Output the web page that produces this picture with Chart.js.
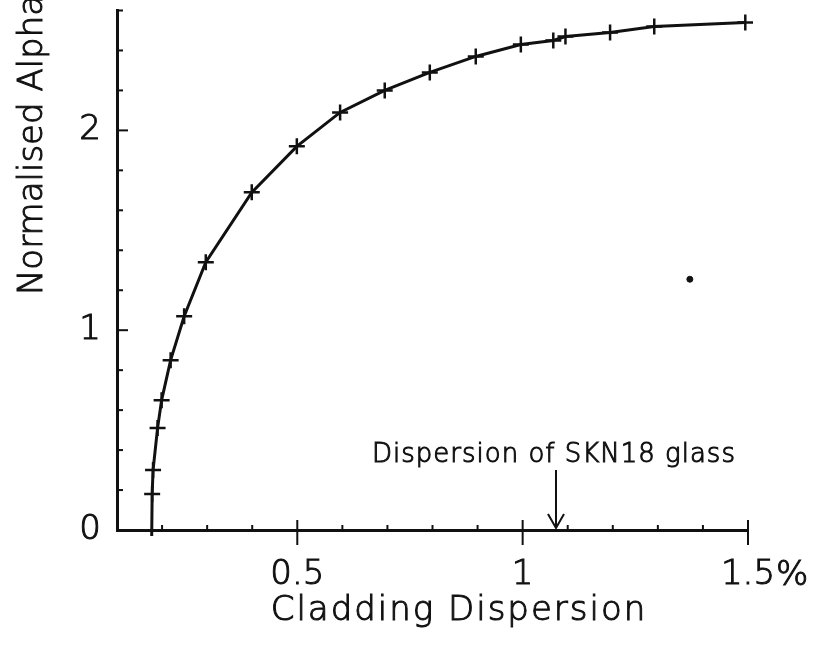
<!DOCTYPE html>
<html>
<head>
<meta charset="utf-8">
<script src="https://cdn.jsdelivr.net/npm/chart.js@4/dist/chart.umd.min.js"></script>
<style>
  html, body { margin: 0; padding: 0; background: #fff; }
  #wrap { width: 815px; height: 651px; position: relative; }
</style>
</head>
<body>
<div id="wrap"><canvas id="c"></canvas></div>
<script>
// measured points (cladding dispersion %, normalised alpha)
const dispersion = [0.177, 0.178, 0.18, 0.19, 0.199, 0.219, 0.249, 0.297, 0.399, 0.499, 0.595, 0.694, 0.794, 0.896, 0.996, 1.068, 1.095, 1.194, 1.292, 1.494];
const alpha = [-0.03, 0.18, 0.30, 0.51, 0.65, 0.85, 1.07, 1.34, 1.69, 1.92, 2.09, 2.20, 2.29, 2.37, 2.43, 2.45, 2.47, 2.49, 2.52, 2.54];
// the first entry is where the curve meets the axis, no marker there
const markerShown = [false, true, true, true, true, true, true, true, true, true, true, true, true, true, true, true, true, true, true, true];

// stray speck on the scanned page
const speckX = [1.371];
const speckY = [1.255];

const xTicks = [0.5, 1, 1.5];
const yTicks = [0, 1, 2];
const skn18 = 1.074;
const noteText = 'Dispersion of SKN18 glass';
const xTitle = 'Cladding Dispersion';
const yTitle = 'Normalised Alpha';

const ink = '#111';
const fontFamily = '"DejaVu Sans", sans-serif';
const thin = 200;   // extra light face, thickened with a stroke
const strokeW = 1;

// fill + thin stroke so the light face looks like a plotter pen
function penText(ctx, txt, x, y) {
    ctx.fillText(txt, x, y);
    ctx.lineWidth = strokeW;
    ctx.strokeText(txt, x, y);
}

let pts = dispersion.map((x, i) => ({ x: x, y: alpha[i] }));

let extras = {
    id: 'extras',
    afterDraw(chart) {
        let ctx = chart.ctx;
        let xs = chart.scales.x;
        let ys = chart.scales.y;
        let area = chart.chartArea;
        ctx.save();
        ctx.strokeStyle = ink;
        ctx.fillStyle = ink;
        ctx.lineCap = 'butt';

        // x minor ticks every 0.1, pointing up; majors cross the axis
        ctx.lineWidth = 2;
        for (let k = 2; k <= 15; k++) {
            let v = k / 10;
            let px = xs.getPixelForValue(v);
            let major = xTicks.some(t => Math.abs(t - v) < 1e-6);
            ctx.beginPath();
            ctx.moveTo(px, area.bottom - (major ? 10 : 5));
            ctx.lineTo(px, area.bottom + (major ? 15 : 0));
            ctx.stroke();
        }
        // y minor ticks every 0.2, pointing right
        for (let k = 1; k <= 13; k++) {
            let v = k / 5;
            let py = ys.getPixelForValue(v);
            let major = yTicks.some(t => Math.abs(t - v) < 1e-6);
            ctx.beginPath();
            ctx.moveTo(area.left, py);
            ctx.lineTo(area.left + (major ? 11 : 6), py);
            ctx.stroke();
        }

        // percent sign after the last x label
        ctx.font = thin + ' 34px ' + fontFamily;
        ctx.textBaseline = 'alphabetic';
        let lastPx = xs.getPixelForValue(xTicks[xTicks.length - 1]);
        let w = ctx.measureText('1.5').width;
        ctx.textAlign = 'left';
        penText(ctx, '%', lastPx + w / 2 + 1, 585);

        // axis titles
        ctx.font = thin + ' 34px ' + fontFamily;
        ctx.textAlign = 'center';
        ctx.letterSpacing = '2px';
        penText(ctx, xTitle, 459, 620);
        ctx.save();
        ctx.translate(42, 145);
        ctx.rotate(-Math.PI / 2);
        ctx.letterSpacing = '0px';
        penText(ctx, yTitle, 0, 0);
        ctx.restore();

        // annotation with arrow
        ctx.font = thin + ' 26px ' + fontFamily;
        ctx.letterSpacing = '1px';
        ctx.textAlign = 'center';
        penText(ctx, noteText, 554, 462);
        ctx.letterSpacing = '0px';
        let ax = xs.getPixelForValue(skn18);
        let tip = ys.getPixelForValue(0) - 2;
        ctx.lineWidth = 2;
        ctx.beginPath();
        ctx.moveTo(ax, 470);
        ctx.lineTo(ax, tip);
        ctx.moveTo(ax - 8, tip - 14);
        ctx.lineTo(ax, tip);
        ctx.lineTo(ax + 8, tip - 14);
        ctx.stroke();
        ctx.restore();
    }
};

new Chart(document.getElementById('c'), {
    type: 'scatter',
    data: {
        datasets: [
            {
                data: pts,
                showLine: true,
                borderColor: ink,
                borderWidth: 3,
                tension: 0,
                pointStyle: 'cross',
                pointRadius: ctx => markerShown[ctx.dataIndex] ? 8 : 0,
                pointBorderWidth: 2.5,
                pointBorderColor: ink,
                clip: { left: 5, right: 5, top: 5, bottom: 8 }
            },
            {
                data: speckX.map((x, i) => ({ x: x, y: speckY[i] })),
                pointStyle: 'circle',
                pointRadius: 3,
                backgroundColor: ink,
                borderColor: ink
            }
        ]
    },
    options: {
        responsive: true,
        maintainAspectRatio: false,
        animation: false,
        events: [],
        layout: { padding: { top: 10, right: 67, left: 0, bottom: 0 } },
        plugins: {
            legend: { display: false },
            tooltip: { enabled: false }
        },
        scales: {
            x: {
                type: 'linear',
                min: 0.1,
                max: 1.5,
                afterBuildTicks: s => { s.ticks = xTicks.map(v => ({ value: v })); },
                afterFit: s => { s.height = 121; s.paddingLeft = 0; s.paddingRight = 0; },
                grid: { display: false },
                border: { display: true, color: ink, width: 3 },
                ticks: {
                    color: ink,
                    textStrokeColor: ink,
                    textStrokeWidth: strokeW,
                    padding: 17,
                    maxRotation: 0,
                    font: { family: fontFamily, size: 34, weight: thin },
                    callback: v => String(v)
                }
            },
            y: {
                type: 'linear',
                min: 0,
                max: 2.6,
                afterBuildTicks: s => { s.ticks = yTicks.map(v => ({ value: v })); },
                afterFit: s => { s.width = 117; s.paddingTop = 0; s.paddingBottom = 0; },
                grid: { display: false },
                border: { display: true, color: ink, width: 3 },
                ticks: {
                    color: ink,
                    textStrokeColor: ink,
                    textStrokeWidth: strokeW,
                    padding: 8,
                    font: { family: fontFamily, size: 34, weight: thin },
                    callback: v => String(v)
                }
            }
        }
    },
    plugins: [extras]
});
</script>
</body>
</html>
